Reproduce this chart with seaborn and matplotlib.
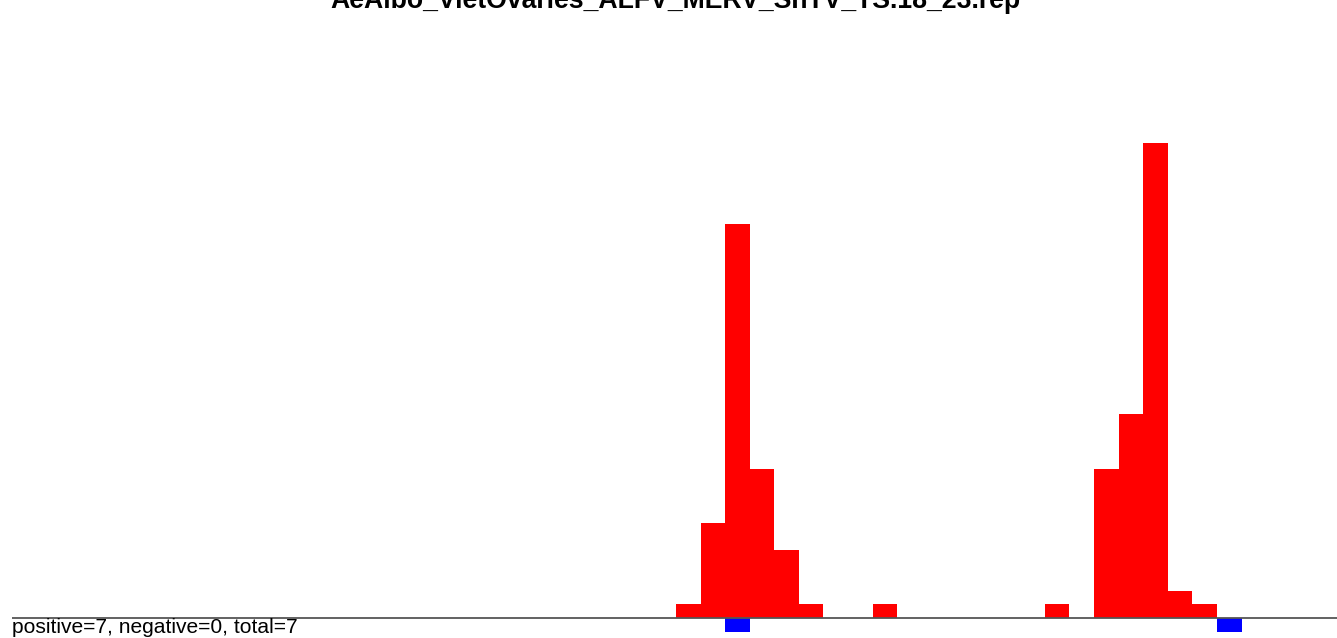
import numpy as np
import pandas as pd
import matplotlib
matplotlib.use("Agg")
import matplotlib.pyplot as plt
import seaborn as sns

# ---- data ----
title = "AeAlbo_VietOvaries_ALFV_MERV_SnTV_TS.18_23.rep"
footer = "positive=7, negative=0, total=7"
pos_bins = [27, 28, 29, 30, 31, 32, 35, 42, 44, 45, 46, 47, 48]
pos_counts = [1, 7, 29, 11, 5, 1, 1, 1, 11, 15, 35, 2, 1]
neg_bins = [29, 49]
neg_counts = [1, 1]

sns.set_theme(style="white")
plt.rcParams['font.family'] = ['Liberation Sans', 'DejaVu Sans']

W, H = 1337, 638
fig = plt.figure(figsize=(W / 100, H / 100), dpi=100)
ax = fig.add_axes([12 / W, 0, (W - 12) / W, 1])

df = pd.concat([
    pd.DataFrame({"x": np.array(pos_bins) + 0.5, "y": pos_counts, "sign": "pos"}),
    pd.DataFrame({"x": np.array(neg_bins) + 0.5, "y": -np.array(neg_counts), "sign": "neg"}),
], ignore_index=True)

sns.barplot(data=df, x="x", y="y", hue="sign", native_scale=True, width=1,
            dodge=False, palette={"pos": "#ff0000", "neg": "#0000ff"},
            saturation=1, errorbar=None, linewidth=0, legend=False, ax=ax)

ax.axhline(0, color="#555555", lw=1.3, zorder=5)
ax.set_xlim(0, (W - 12) / 24.59)
ax.set_ylim(-1.474, 45.54)
ax.set_axis_off()

fig.text(675.5 / W, 1 - 7.5 / H, title, ha="center", va="baseline",
         fontsize=19.2, fontweight="bold", color="black")
fig.text(12 / W, (H - 632.7) / H, footer, ha="left", va="baseline",
         fontsize=15.1, color="black")

fig.savefig("out.png", dpi=100)
